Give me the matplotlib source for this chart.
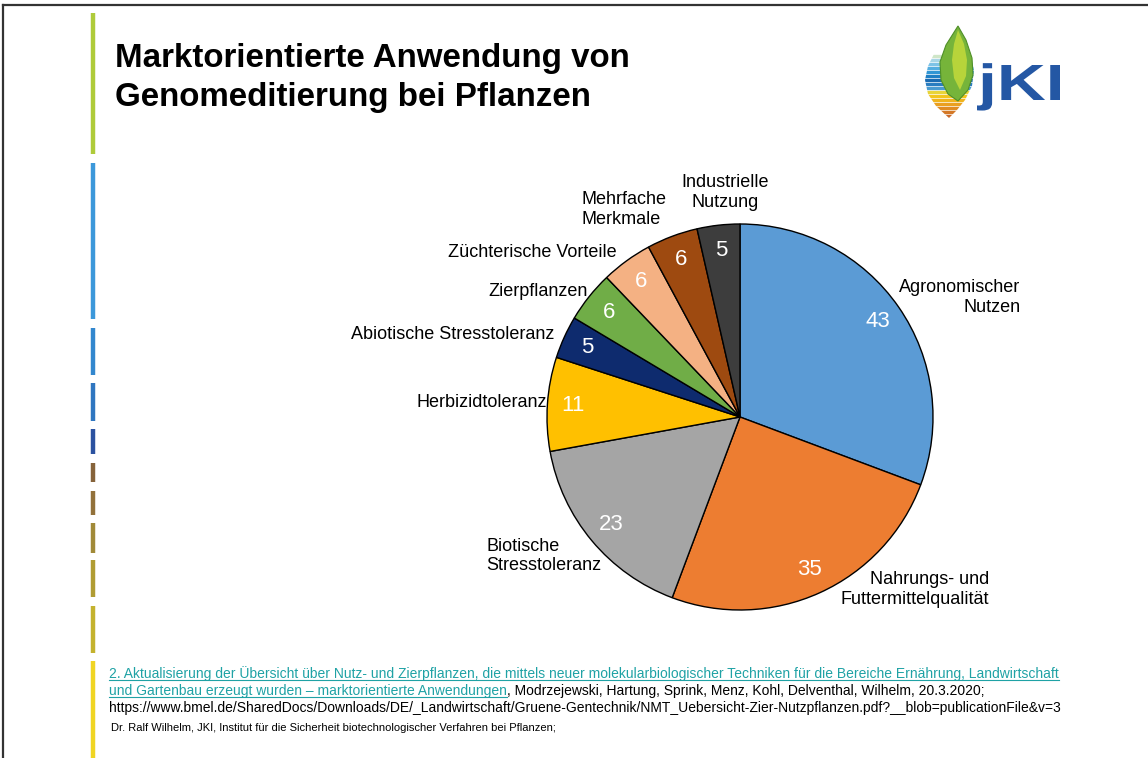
import matplotlib
matplotlib.use("Agg")
import matplotlib.pyplot as plt
from matplotlib.patches import Polygon, PathPatch
from matplotlib.textpath import TextPath
from matplotlib.font_manager import FontProperties
from matplotlib.transforms import Affine2D

plt.rcParams['font.family'] = ['Liberation Sans', 'DejaVu Sans']

# Anwendungen nach Kategorie (Anzahl)
categories = ["Agronomischer\nNutzen", "Nahrungs- und\nFuttermittelqualität",
              "Biotische\nStresstoleranz", "Herbizidtoleranz",
              "Abiotische Stresstoleranz", "Zierpflanzen",
              "Züchterische Vorteile", "Mehrfache\nMerkmale",
              "Industrielle\nNutzung"]
counts = [43, 35, 23, 11, 5, 6, 6, 6, 5]
colors = ["#5B9BD5", "#ED7D31", "#A5A5A5", "#FFC000", "#0E2B6E",
          "#70AD47", "#F4B183", "#9E4A10", "#3D3D3D"]

title_lines = ["Marktorientierte Anwendung von", "Genomeditierung bei Pflanzen"]
source_line1 = ("2. Aktualisierung der Übersicht über Nutz- und Zierpflanzen, die mittels neuer "
                "molekularbiologischer Techniken für die Bereiche Ernährung, Landwirtschaft")
source_line2a = "und Gartenbau erzeugt wurden – marktorientierte Anwendungen"
source_line2b = ", Modrzejewski, Hartung, Sprink, Menz, Kohl, Delventhal, Wilhelm, 20.3.2020;"
source_line3 = ("https://www.bmel.de/SharedDocs/Downloads/DE/_Landwirtschaft/Gruene-Gentechnik/"
                "NMT_Uebersicht-Zier-Nutzpflanzen.pdf?__blob=publicationFile&v=3")
author_line = "Dr. Ralf Wilhelm, JKI, Institut für die Sicherheit biotechnologischer Verfahren bei Pflanzen;"

W, H = 1148, 758
fig = plt.figure(figsize=(W / 100, H / 100), dpi=100)
fig.patch.set_facecolor("white")

# Hintergrund-Achse in Pixelkoordinaten
bg = fig.add_axes([0, 0, 1, 1])
bg.set_xlim(0, W)
bg.set_ylim(H, 0)
bg.axis("off")

# Rahmen oben und links
bg.plot([3, W], [5, 5], color="#333333", lw=1.6)
bg.plot([3, 3], [5, H], color="#333333", lw=1.6)

# farbiger Balken links
bar_segments = [(13, 154, "#AFCB3A"), (163, 319, "#3C98DA"), (328, 375, "#3287CE"),
                (383, 421, "#2F76C0"), (429, 454, "#2B52A0"), (463, 482, "#86633A"),
                (491, 515, "#92713A"), (523, 553, "#A18A38"), (560, 597, "#B09C33"),
                (606, 653, "#C4B22E"), (661, 758, "#F0D523")]
for y0, y1, c in bar_segments:
    bg.plot([93, 93], [y0, y1], color=c, lw=3.2, solid_capstyle="butt")

# Titel
bg.text(115, 67, title_lines[0], fontsize=23.85, fontweight="bold", va="baseline")
bg.text(115, 106, title_lines[1], fontsize=23.85, fontweight="bold", va="baseline")

# Logo: Flamme mit Streifen und Blatt
flame = [(957, 27), (946, 38), (935, 52), (928, 66), (925, 80), (928, 94), (936, 106),
         (949, 118), (957, 110), (965, 100), (972, 86), (974, 70), (970, 52), (964, 38)]
clip = Polygon(flame, closed=True, facecolor="none", edgecolor="none")
bg.add_patch(clip)
blues = ["#CFE6C8", "#A9D6E6", "#7EC3E6", "#55AEE0", "#3196D4", "#1F7FC4",
         "#1A6BB2", "#2A7DC0", "#4A9BD0"]
yellows = ["#E8D43A", "#F2C51E", "#F0B41C", "#EAA020", "#E08C22", "#D47826",
           "#C86828", "#B85A28"]
for i, y in enumerate(range(56, 120, 4)):
    c = blues[i] if i < len(blues) else yellows[min(i - len(blues), len(yellows) - 1)]
    ln, = bg.plot([918, 980], [y, y], color=c, lw=2.4, solid_capstyle="butt")
    ln.set_clip_path(clip)
leaf = Polygon([(958, 26), (966, 40), (972, 58), (973, 75), (968, 90), (958, 101),
                (948, 94), (941, 80), (940, 62), (946, 45)],
               closed=True, facecolor="#76B43A", edgecolor="#4F8F28", lw=0.8, zorder=3)
bg.add_patch(leaf)
bg.add_patch(Polygon([(958, 30), (964, 44), (967, 60), (966, 76), (960, 90),
                      (954, 78), (952, 60), (954, 44)],
                     closed=True, facecolor="#B7D43A", edgecolor="none", zorder=3))

fp = FontProperties(family="Liberation Sans", weight="bold")
logo_path = TextPath((0, 0), "jKI", size=1, prop=fp)
k_ext = TextPath((0, 0), "K", size=1, prop=fp).get_extents()
ext = logo_path.get_extents()
sx = 83 / ext.width
sy = 35 / k_ext.height
tr = Affine2D().scale(sx, -sy).translate(977 - ext.x0 * sx, 100)
bg.add_patch(PathPatch(logo_path, transform=tr + bg.transData,
                       facecolor="#2457A4", edgecolor="none"))

# Kreisdiagramm
cx, cy, r = 740, 417, 193
half = 1.5 * r
pie_ax = fig.add_axes([(cx - half) / W, (H - cy - half) / H, 2 * half / W, 2 * half / H])
total = sum(counts)
pie_ax.pie(counts, colors=colors, startangle=90, counterclock=False, radius=1,
           wedgeprops=dict(edgecolor="black", linewidth=1.0),
           autopct=lambda p: f"{round(p * total / 100)}", pctdistance=0.87,
           textprops=dict(color="white", fontsize=16))
pie_ax.set_xlim(-1.5, 1.5)
pie_ax.set_ylim(-1.5, 1.5)
pie_ax.axis("off")

label_pos = [(1.453, 0.62, "right"), (1.292, -0.893, "right"), (-1.3125, -0.721, "left"),
             (-1.0, 0.073, "right"), (-0.964, 0.427, "right"), (-0.79, 0.651, "right"),
             (-0.64, 0.854, "right"), (-0.823, 1.075, "left"), (-0.078, 1.164, "center")]
for lab, (x, y, ha) in zip(categories, label_pos):
    pie_ax.text(x, y, lab, ha=ha, va="center", multialignment=ha,
                fontsize=13, linespacing=1.2)

# Quellenangabe
teal = "#1FA2A5"
fs = 10.0
t1 = bg.text(109, 678, source_line1, fontsize=fs, color=teal, va="baseline")
t2a = bg.text(109, 695, source_line2a, fontsize=fs, color=teal, va="baseline")
bg.text(109, 712, source_line3, fontsize=fs, va="baseline")
bg.text(111, 731, author_line, fontsize=8.05, va="baseline")

fig.canvas.draw()
renderer = fig.canvas.get_renderer()
inv = bg.transData.inverted()
for t, yb in [(t1, 678), (t2a, 695)]:
    bb = t.get_window_extent(renderer)
    x0 = inv.transform((bb.x0, bb.y0))[0]
    x1 = inv.transform((bb.x1, bb.y0))[0]
    bg.plot([x0, x1], [yb + 2, yb + 2], color=teal, lw=0.8)
bb = t2a.get_window_extent(renderer)
x_end = inv.transform((bb.x1, bb.y0))[0]
bg.text(x_end, 695, source_line2b, fontsize=fs, va="baseline")

fig.savefig("out.png", dpi=100)
